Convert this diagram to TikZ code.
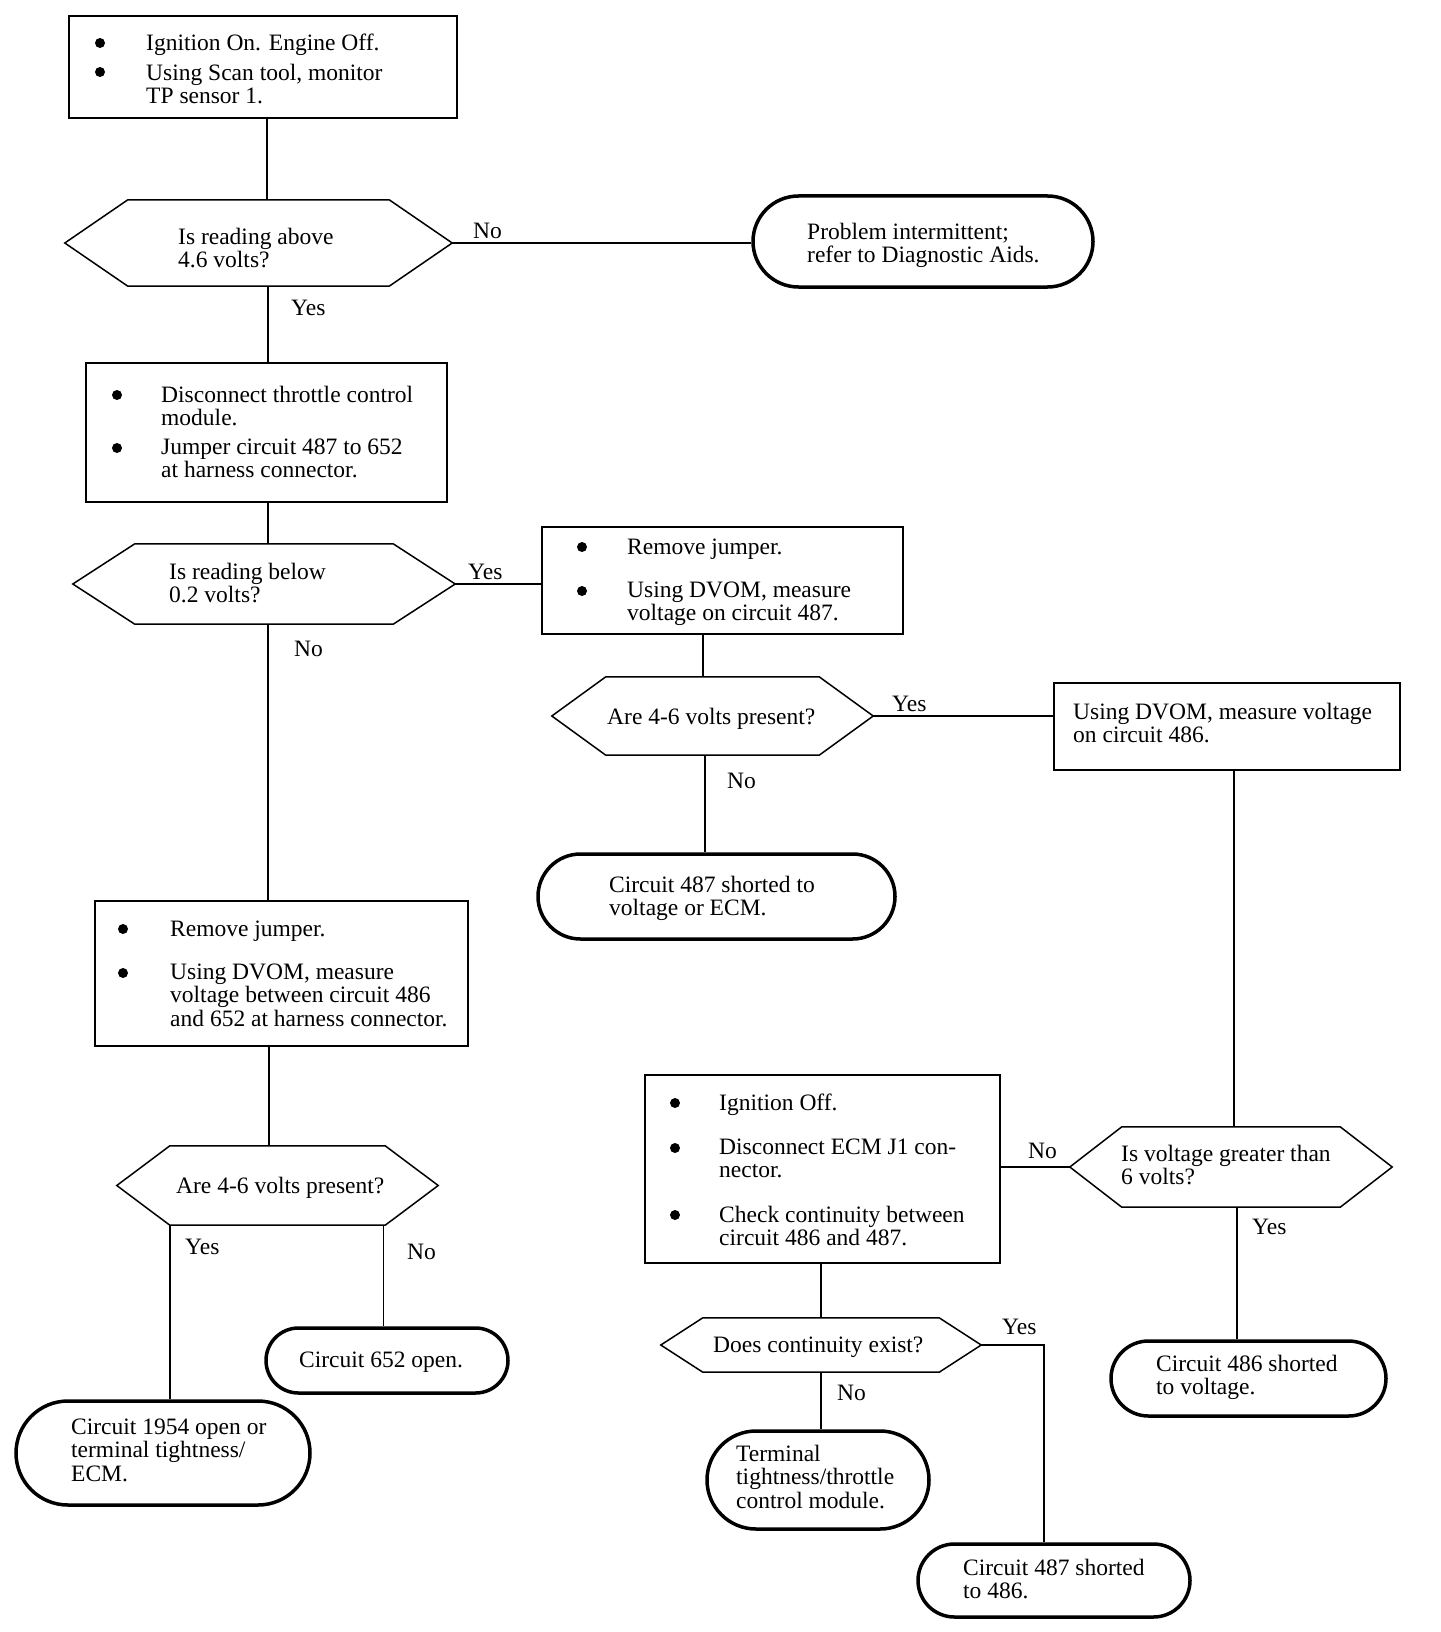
\documentclass[tikz,border=0pt]{standalone}
\usepackage{fontspec}
\setmainfont{Liberation Serif}
\usetikzlibrary{shapes.misc}
\newcommand{\fs}{\fontsize{23.5}{23.5}\selectfont}
\newcommand{\hexdraw}[2]{\draw[hexline] (#1.west) -- ([xshift=#2]#1.north west) -- ([xshift=-#2]#1.north east) -- (#1.east) -- ([xshift=-#2]#1.south east) -- ([xshift=#2]#1.south west) -- cycle;}
\begin{document}
\begin{tikzpicture}[x=1pt,y=-1pt,
  procbox/.style={draw, line width=1.8pt, rectangle, inner sep=0pt},
  term/.style={draw, line width=3.5pt, rounded rectangle, inner sep=0pt},
  hexn/.style={draw=none, rectangle, inner sep=0pt},
  hexline/.style={line width=1.5pt, line join=miter},
  txt/.style={anchor=north west, inner sep=0pt, align=left, font=\fs, yshift=16.45pt, execute at begin node=\strut},
  lbl/.style={anchor=base west, inner sep=0pt, font=\fs},
  bul/.style={circle, fill, inner sep=0pt, minimum size=10pt},
  conn/.style={line width=1.4pt}]
\useasboundingbox[fill=white] (0,0) rectangle (1440,1632);

% shapes
\node[procbox, minimum width=388pt, minimum height=102pt] (a) at (263,67) {};
\node[hexn, minimum width=387pt, minimum height=86pt] (d1) at (258.5,243) {};
\hexdraw{d1}{63pt}
\node[term, minimum width=340pt, minimum height=91pt] (t1) at (923,241.5) {};
\node[procbox, minimum width=361pt, minimum height=139pt] (b) at (266.5,432.5) {};
\node[hexn, minimum width=382pt, minimum height=80pt] (d2) at (264,584) {};
\hexdraw{d2}{62pt}
\node[procbox, minimum width=361pt, minimum height=107pt] (c) at (722.5,580.5) {};
\node[hexn, minimum width=321pt, minimum height=78pt] (d3) at (712.5,716) {};
\hexdraw{d3}{54pt}
\node[term, minimum width=357pt, minimum height=85pt] (t2) at (716.5,896.5) {};
\node[procbox, minimum width=346pt, minimum height=87pt] (e) at (1227,726.5) {};
\node[procbox, minimum width=373pt, minimum height=145pt] (d) at (281.5,973.5) {};
\node[hexn, minimum width=321pt, minimum height=79pt] (d4) at (277.5,1185.5) {};
\hexdraw{d4}{53pt}
\node[term, minimum width=242pt, minimum height=65pt] (t3) at (387,1360.5) {};
\node[term, minimum width=294pt, minimum height=104pt] (t4) at (163,1453) {};
\node[procbox, minimum width=355pt, minimum height=188pt] (f) at (822.5,1169) {};
\node[hexn, minimum width=320pt, minimum height=54pt] (d5) at (821,1345) {};
\hexdraw{d5}{42pt}
\node[term, minimum width=222pt, minimum height=98pt] (t5) at (818,1480) {};
\node[term, minimum width=272pt, minimum height=73pt] (t6) at (1054,1580.5) {};
\node[hexn, minimum width=322pt, minimum height=80pt] (d6) at (1231,1167) {};
\hexdraw{d6}{52pt}
\node[term, minimum width=275pt, minimum height=75pt] (t7) at (1248.5,1378.5) {};

% texts
\node[bul] (ab1) at (100,43) {};
\node[txt] (at1) at (146,50) {Ignition On. Engine Off.};
\node[bul] (ab2) at (100,72) {};
\node[txt] (at2) at (146,80) {Using Scan tool, monitor\\TP sensor 1.};
\node[txt] (d1t) at (178,244) {Is reading above\\4.6 volts?};
\node[txt] (t1t) at (807,239) {Problem intermittent;\\refer to Diagnostic Aids.};
\node[bul] (bb1) at (117,395) {};
\node[txt] (bt1) at (161,402) {Disconnect throttle control\\module.};
\node[bul] (bb2) at (117,448) {};
\node[txt] (bt2) at (161,455) {Jumper circuit 487 to 652\\at harness connector.};
\node[txt] (d2t) at (169,579) {Is reading below\\0.2 volts?};
\node[bul] (cb1) at (582,547) {};
\node[txt] (ct1) at (627,554) {Remove jumper.};
\node[bul] (cb2) at (582,591) {};
\node[txt] (ct2) at (627,598) {Using DVOM, measure\\voltage on circuit 487.};
\node[txt] (d3t) at (607,724) {Are 4-6 volts present?};
\node[txt] (t2t) at (609,892) {Circuit 487 shorted to\\voltage or ECM.};
\node[txt] (et) at (1073,719) {Using DVOM, measure voltage\\on circuit 486.};
\node[bul] (db1) at (123,929) {};
\node[txt] (dt1) at (170,936) {Remove jumper.};
\node[bul] (db2) at (123,973) {};
\node[txt] (dt2) at (170,980) {Using DVOM, measure\\voltage between circuit 486\\and 652 at harness connector.};
\node[txt] (d4t) at (176,1193) {Are 4-6 volts present?};
\node[txt] (t3t) at (299,1367) {Circuit 652 open.};
\node[txt] (t4t) at (71,1435) {Circuit 1954 open or\\terminal tightness/\\ECM.};
\node[bul] (fb1) at (675,1103) {};
\node[txt] (ft1) at (719,1110) {Ignition Off.};
\node[bul] (fb2) at (675,1148) {};
\node[txt] (ft2) at (719,1155) {Disconnect ECM J1 con-\\nector.};
\node[bul] (fb3) at (675,1215) {};
\node[txt] (ft3) at (719,1222) {Check continuity between\\circuit 486 and 487.};
\node[txt] (d5t) at (713,1352) {Does continuity exist?};
\node[txt] (t5t) at (736,1461) {Terminal\\tightness/throttle\\control module.};
\node[txt] (t6t) at (963,1575) {Circuit 487 shorted\\to 486.};
\node[txt] (d6t) at (1121,1161) {Is voltage greater than\\6 volts?};
\node[txt] (t7t) at (1156,1371) {Circuit 486 shorted\\to voltage.};

% connectors
\draw[conn] ([xshift=4pt]a.south) -- ([xshift=4pt]a.south |- d1.north);
\draw[conn] (d1.east) -- (d1.east -| t1.west);
\draw[conn] ([xshift=9.5pt]d1.south) -- ([xshift=9.5pt]d1.south |- b.north);
\draw[conn] ([xshift=1.5pt]b.south) -- ([xshift=1.5pt]b.south |- d2.north);
\draw[conn] (d2.east) -- (d2.east -| c.west);
\draw[conn] ([xshift=4pt]d2.south) -- ([xshift=4pt]d2.south |- d.north);
\draw[conn] ([xshift=-19.5pt]c.south) -- ([xshift=-19.5pt]c.south |- d3.north);
\draw[conn] (d3.east) -- (d3.east -| e.west);
\draw[conn] ([xshift=-7.5pt]d3.south) -- ([xshift=-7.5pt]d3.south |- t2.north);
\draw[conn] ([xshift=7pt]e.south) -- ([xshift=7pt]e.south |- d6.north);
\draw[conn] (d6.west) -- (d6.west -| f.east);
\draw[conn] ([xshift=6pt]d6.south) -- ([xshift=6pt]d6.south |- t7.north);
\draw[conn] ([xshift=-1.5pt]f.south) -- ([xshift=-1.5pt]f.south |- d5.north);
\draw[conn] (d5.east) -| ([xshift=-10pt]t6.north);
\draw[conn] (d5.south) -- (d5.south |- t5.north);
\draw[conn] ([xshift=-12.5pt]d.south) -- ([xshift=-12.5pt]d.south |- d4.north);
\draw[conn] ([xshift=53pt]d4.south west) -- ([xshift=53pt]d4.south west |- t4.north);
\draw[conn] ([xshift=-55pt]d4.south east) -- ([xshift=-55pt]d4.south east |- t3.north);

% labels
\node[lbl] (l1) at (473,238) {No};
\node[lbl] (l2) at (291,315) {Yes};
\node[lbl] (l3) at (468,579) {Yes};
\node[lbl] (l4) at (294,656) {No};
\node[lbl] (l5) at (892,711) {Yes};
\node[lbl] (l6) at (727,788) {No};
\node[lbl] (l7) at (1028,1158) {No};
\node[lbl] (l8) at (1252,1234) {Yes};
\node[lbl] (l9) at (1002,1334) {Yes};
\node[lbl] (l10) at (837,1400) {No};
\node[lbl] (l11) at (185,1254) {Yes};
\node[lbl] (l12) at (407,1259) {No};
\end{tikzpicture}
\end{document}
